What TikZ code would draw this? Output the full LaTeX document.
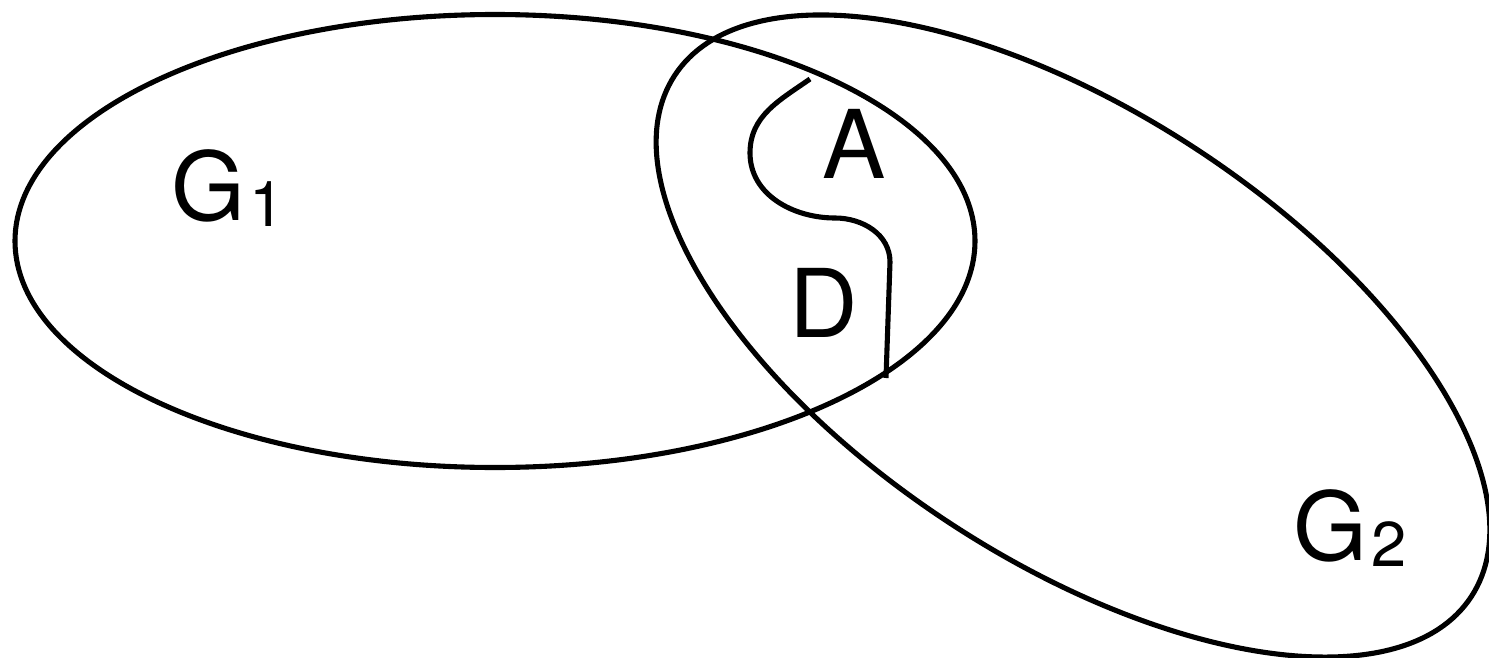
\documentclass[tikz,border=0pt]{standalone}
\usepackage{fontspec}
\setmainfont{TeX Gyre Heros}
\usepackage{tikz}
\usetikzlibrary{calc,positioning}

\begin{document}
\begin{tikzpicture}[x=1cm,y=1cm,
  outline/.style={line width=1.45pt},
  setlabel/.style={inner sep=0pt,font=\fontsize{27}{27}\selectfont}]
\useasboundingbox (0,0) rectangle (14.89,-6.58);
% the two sets
\draw[outline] (4.95,-2.41) ellipse [x radius=4.80,y radius=2.265];
\draw[outline] (10.73,-3.36) ellipse [x radius=4.76,y radius=2.24,rotate=-33.2];
% boundary between A and D
\coordinate (top) at (8.10,-0.79);
\coordinate (bot) at (8.86,-3.78);
\draw[outline] (top) to[out=215,in=90] (7.50,-1.53) to[out=-90,in=180] (8.35,-2.18)
  to[out=0,in=90] (8.90,-2.62) -- (bot);
\node[setlabel] (g1) at (2.28,-1.88) {G\kern1pt\raisebox{-1.5pt}{\fontsize{18}{18}\selectfont 1}};
\node[setlabel] (g2) at (13.50,-5.28) {G\kern1pt\raisebox{-1.5pt}{\fontsize{18}{18}\selectfont 2}};
\node[setlabel] (a) at (8.54,-1.44) {A};
\node[setlabel] (d) at (8.24,-3.03) {D};
\end{tikzpicture}
\end{document}
